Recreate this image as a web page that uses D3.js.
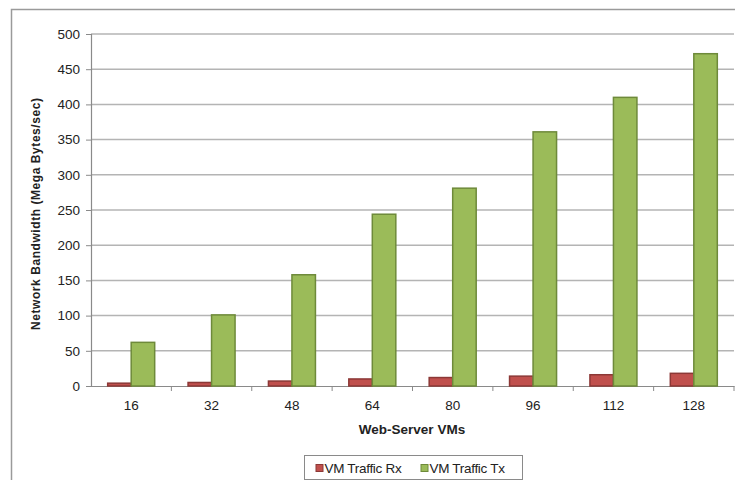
<!DOCTYPE html>
<html>
<head>
<meta charset="utf-8">
<script src="https://cdn.jsdelivr.net/npm/d3@7/dist/d3.min.js"></script>
<style>
  html, body { margin: 0; padding: 0; background: #fff; }
  svg { display: block; font-family: "Liberation Sans", Arial, sans-serif; }
</style>
</head>
<body>
<svg id="chart" width="735" height="480"></svg>
<script>
// Web-server VM count on the x axis
const categories = ["16", "32", "48", "64", "80", "96", "112", "128"];
// Network bandwidth in MB/s per series
const rxValues = [4, 5, 7, 10, 12, 14, 16, 18];
const txValues = [62, 101, 158, 244, 281, 361, 410, 472];
const seriesNames = ["VM Traffic Rx", "VM Traffic Tx"];
const yTicks = [0, 50, 100, 150, 200, 250, 300, 350, 400, 450, 500];

const colors = {
  "VM Traffic Rx": { fill: "#C0504D", stroke: "#8C3836" },
  "VM Traffic Tx": { fill: "#9BBB59", stroke: "#6E8A3A" }
};

const svg = d3.select("#chart");

// outer chart frame
svg.append("path")
  .attr("d", "M11.5,480 V9.5 H735")
  .attr("fill", "none")
  .attr("stroke", "#9a9a9a")
  .attr("stroke-width", 1.5);

const plot = { left: 91, right: 734, top: 34, bottom: 386 };

const x0 = d3.scaleBand().domain(categories).range([plot.left, plot.right]).padding(0);
const x1 = d3.scaleBand().domain(seriesNames).range([0, x0.bandwidth()])
  .paddingInner(0).paddingOuter(0.71);
const y = d3.scaleLinear().domain([0, 500]).range([plot.bottom, plot.top]);

// horizontal gridlines
svg.append("g")
  .selectAll("line")
  .data(yTicks.filter(d => d > 0))
  .join("line")
  .attr("x1", plot.left).attr("x2", plot.right)
  .attr("y1", d => y(d)).attr("y2", d => y(d))
  .attr("stroke", "#b4b4b4")
  .attr("stroke-width", 1.5);

// y axis
const yAxis = svg.append("g")
  .attr("transform", `translate(${plot.left},0)`)
  .call(d3.axisLeft(y).tickValues(yTicks).tickSize(5).tickPadding(6));
yAxis.select(".domain").attr("stroke", "#8a8a8a").attr("stroke-width", 1.2);
yAxis.selectAll(".tick line").attr("stroke", "#8a8a8a");
yAxis.selectAll(".tick text")
  .attr("font-size", 13.5).attr("fill", "#222")
  .attr("font-family", "Liberation Sans, Arial, sans-serif");

// x axis with ticks at category boundaries
const xAxis = svg.append("g")
  .attr("transform", `translate(0,${plot.bottom})`)
  .call(d3.axisBottom(x0).tickSize(0).tickPadding(14));
xAxis.select(".domain").attr("stroke", "#8a8a8a").attr("stroke-width", 1.2);
xAxis.selectAll(".tick text")
  .attr("font-size", 13.5).attr("fill", "#222")
  .attr("font-family", "Liberation Sans, Arial, sans-serif");
xAxis.selectAll(".boundary")
  .data(categories.slice(1).concat(["end"]))
  .join("line")
  .attr("class", "boundary")
  .attr("x1", (d, i) => plot.left + x0.step() * (i + 1))
  .attr("x2", (d, i) => plot.left + x0.step() * (i + 1))
  .attr("y1", 0).attr("y2", 5)
  .attr("stroke", "#8a8a8a");

// bars
const rows = categories.map((c, i) => ({
  cat: c,
  vals: [
    { name: seriesNames[0], value: rxValues[i] },
    { name: seriesNames[1], value: txValues[i] }
  ]
}));

svg.append("g")
  .selectAll("g")
  .data(rows)
  .join("g")
  .attr("transform", d => `translate(${x0(d.cat)},0)`)
  .selectAll("rect")
  .data(d => d.vals)
  .join("rect")
  .attr("x", d => x1(d.name))
  .attr("y", d => y(d.value))
  .attr("width", x1.bandwidth())
  .attr("height", d => y(0) - y(d.value))
  .attr("fill", d => colors[d.name].fill)
  .attr("stroke", d => colors[d.name].stroke)
  .attr("stroke-width", 1.5);

// axis titles
svg.append("text")
  .attr("transform", `translate(40,214) rotate(-90)`)
  .attr("text-anchor", "middle")
  .attr("font-size", 12)
  .attr("font-weight", "bold")
  .attr("fill", "#222")
  .attr("textLength", 232)
  .attr("lengthAdjust", "spacing")
  .text("Network Bandwidth (Mega Bytes/sec)");

svg.append("text")
  .attr("x", 412)
  .attr("y", 434)
  .attr("text-anchor", "middle")
  .attr("font-size", 13.5)
  .attr("font-weight", "bold")
  .attr("fill", "#222")
  .text("Web-Server VMs");

// legend
const legend = svg.append("g").attr("transform", "translate(304,455)");
legend.append("rect")
  .attr("x", 0.5).attr("y", 0.5)
  .attr("width", 218).attr("height", 24)
  .attr("fill", "#fff")
  .attr("stroke", "#8a8a8a");
const items = legend.selectAll("g.item")
  .data(seriesNames)
  .join("g")
  .attr("class", "item")
  .attr("transform", (d, i) => `translate(${12 + i * 105},0)`);
items.append("rect")
  .attr("x", 0).attr("y", 9.5)
  .attr("width", 7).attr("height", 7)
  .attr("fill", d => colors[d].fill)
  .attr("stroke", d => colors[d].stroke);
items.append("text")
  .attr("x", 8.5).attr("y", 18)
  .attr("font-size", 13.5)
  .attr("letter-spacing", -0.3)
  .attr("fill", "#222")
  .text(d => d);
</script>
</body>
</html>
